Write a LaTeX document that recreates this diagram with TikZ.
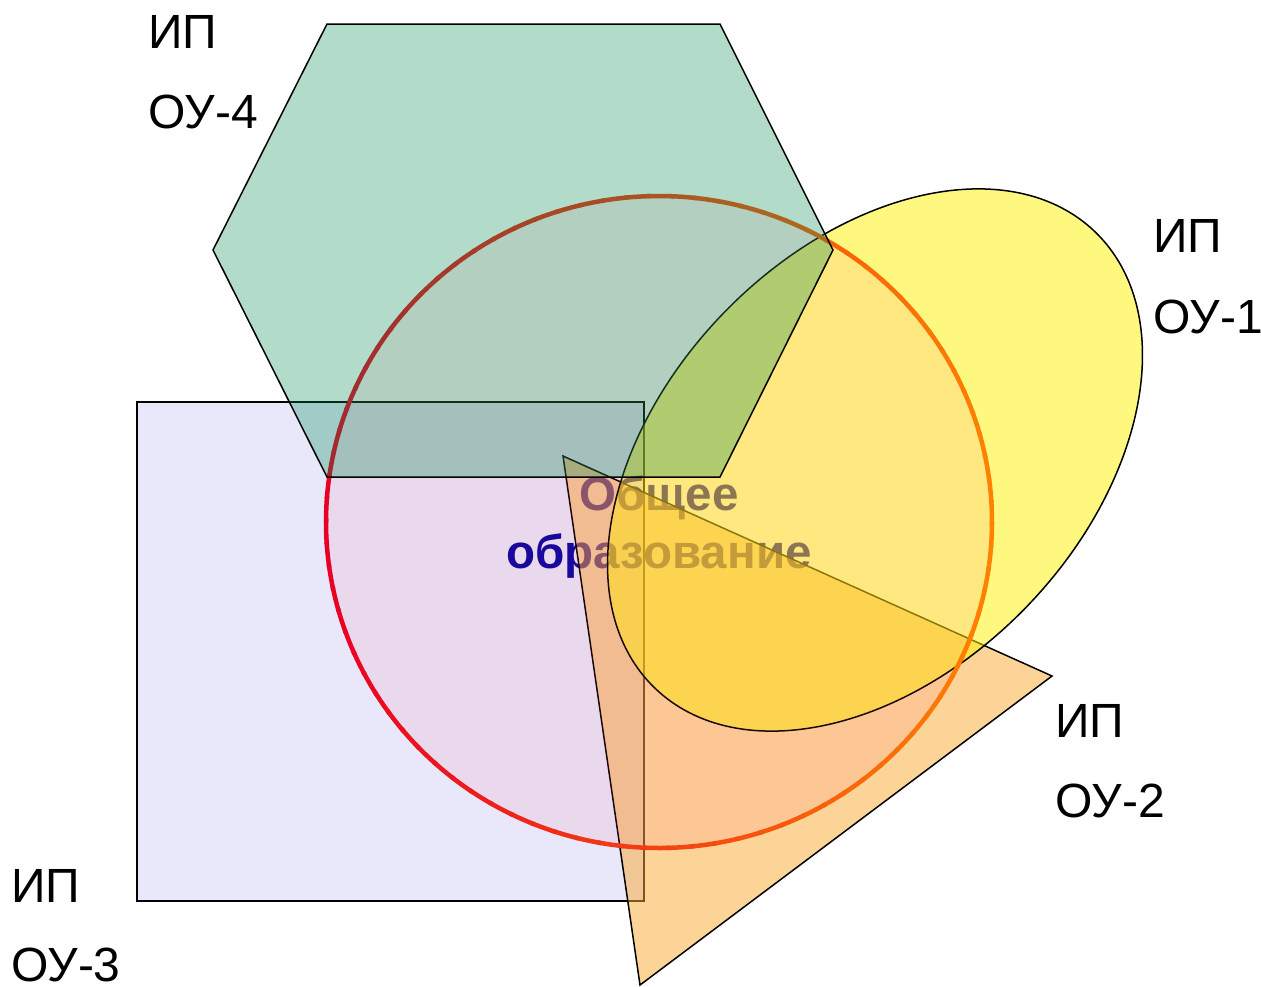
\documentclass[tikz,border=0pt]{standalone}
\usepackage{fontspec}
\setmainfont{Liberation Sans}
\usepackage{xcolor}
\usepackage{tikz}

\definecolor{hexgreen}{RGB}{0,136,78}
\definecolor{triorange}{RGB}{250,170,50}
\definecolor{rectblue}{RGB}{232,232,250}
\definecolor{circpink}{RGB}{255,85,128}
\definecolor{ringred}{RGB}{232,0,36}
\definecolor{ringorange}{RGB}{255,130,0}
\definecolor{textblue}{RGB}{0,0,160}

\begin{document}
\begin{tikzpicture}[x=1pt, y=-1pt,
        outline/.style={draw=black, line width=1.5pt, line join=miter},
        lbl/.style={anchor=base west, inner sep=0pt, font=\fontsize{48}{58}\selectfont},
        title/.style={anchor=base, inner sep=0pt, text=textblue, font=\fontsize{47.5}{56}\selectfont\bfseries}
    ]
        \useasboundingbox (0,0) rectangle (1261,986);

        % Rectangle
        \draw[outline, fill=rectblue] (137,402) rectangle (644,901);

        % Title
        \node[title] (common) at (659,510) {Общее};
        \node[title] (edu) at (659,568) {образование};

        % Triangle
        \draw[outline, fill=triorange, fill opacity=0.5] (563,456) -- (1052,676) -- (640,985) -- cycle;

        % Ellipse
        \draw[outline, fill=yellow, fill opacity=0.5, rotate around={46:(875,460)}] (875,460) ellipse [x radius=317, y radius=211];

        % Circle
        \fill[circpink, fill opacity=0.1] (659,522) ellipse [x radius=333, y radius=326];
        \foreach \a in {0,4,...,356} {
            \pgfmathsetmacro{\mix}{50+50*cos(\a+2)}
            \draw[line width=4.5pt, color=ringorange!\mix!ringred] (659,522) ++(\a:333 and 326) arc[start angle=\a, end angle=\a+4.6, x radius=333, y radius=326];
        }

        % Hexagon
        \draw[outline, fill=hexgreen, fill opacity=0.3] (327,24) -- (720,24) -- (833,250) -- (720,477) -- (327,477) -- (213,250) -- cycle;

        % Labels
        \node[lbl] (ip4) at (148,48) {ИП};
        \node[lbl] (ou4) at (148,128) {ОУ-4};
        \node[lbl] (ip1) at (1153,252) {ИП};
        \node[lbl] (ou1) at (1153,333) {ОУ-1};
        \node[lbl] (ip2) at (1055,737) {ИП};
        \node[lbl] (ou2) at (1055,817) {ОУ-2};
        \node[lbl] (ip3) at (11,902) {ИП};
        \node[lbl] (ou3) at (11,981) {ОУ-3};

    \end{tikzpicture}
\end{document}
